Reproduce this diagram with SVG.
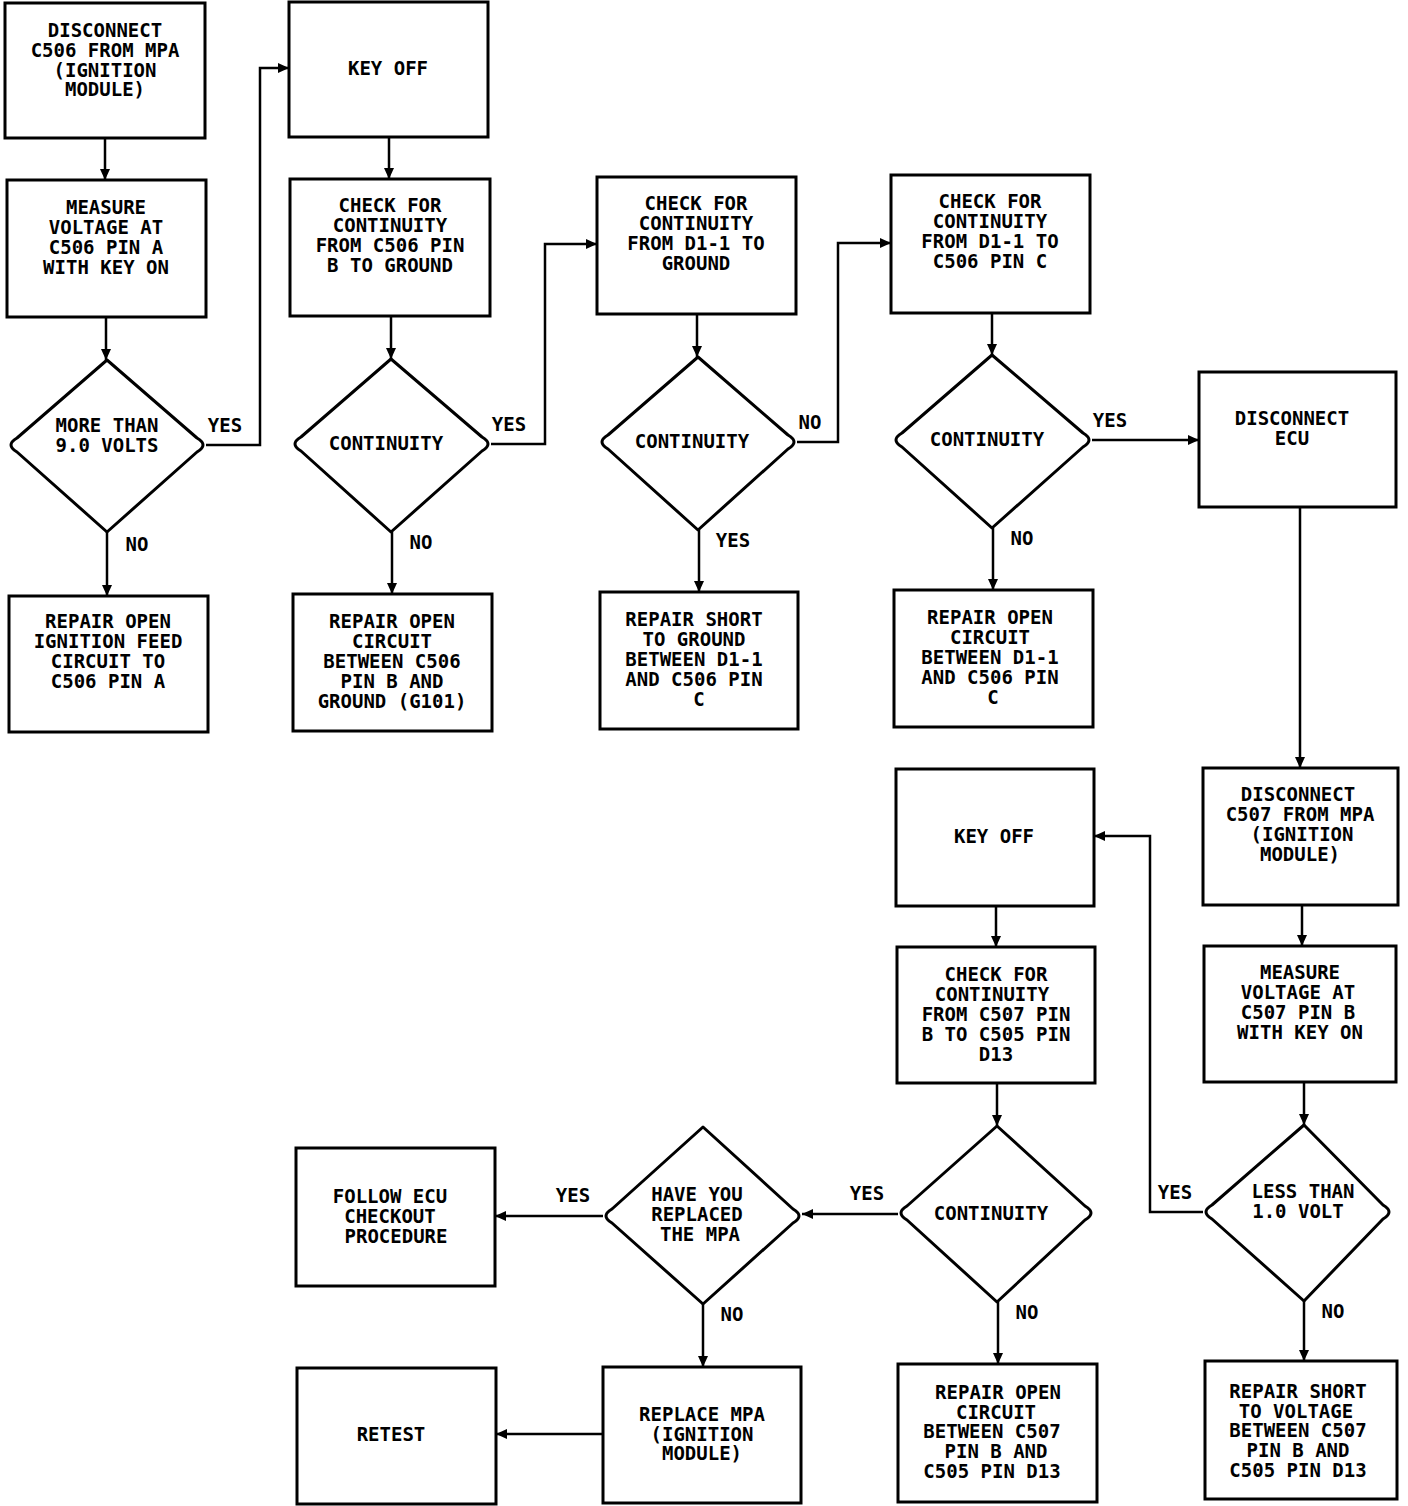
<svg xmlns="http://www.w3.org/2000/svg" width="1408" height="1506" viewBox="0 0 1408 1506">
<defs>
<marker id="ah" markerUnits="userSpaceOnUse" markerWidth="11" markerHeight="10" refX="11" refY="5" orient="auto">
<path d="M0,0 L11,5 L0,10 Z" fill="#000"/>
</marker>
<style>
.box{fill:#fff;stroke:#000;stroke-width:3}
.dia{fill:#fff;stroke:#000;stroke-width:3;stroke-linejoin:round}
.t{font-family:"DejaVu Sans Mono","Liberation Mono",monospace;font-size:19px;font-weight:bold;fill:#000;text-anchor:middle}
.lbl{font-family:"DejaVu Sans Mono","Liberation Mono",monospace;font-size:19px;font-weight:bold;fill:#000;text-anchor:middle}
.c{fill:none;stroke:#000;stroke-width:2.5}
</style>
</defs>
<rect width="1408" height="1506" fill="#fff"/>

<g id="connectors">
<path class="c" d="M105,138 V180" marker-end="url(#ah)"/>
<path class="c" d="M106,317 V360" marker-end="url(#ah)"/>
<path class="c" d="M206,445 H260 V68 H289" marker-end="url(#ah)"/>
<path class="c" d="M107,532 V596" marker-end="url(#ah)"/>
<path class="c" d="M389,137 V179" marker-end="url(#ah)"/>
<path class="c" d="M391,316 V359" marker-end="url(#ah)"/>
<path class="c" d="M491,444 H545 V244 H597" marker-end="url(#ah)"/>
<path class="c" d="M392,532 V594" marker-end="url(#ah)"/>
<path class="c" d="M697,314 V357" marker-end="url(#ah)"/>
<path class="c" d="M797,442 H838 V243 H891" marker-end="url(#ah)"/>
<path class="c" d="M699,530 V592" marker-end="url(#ah)"/>
<path class="c" d="M992,313 V355" marker-end="url(#ah)"/>
<path class="c" d="M1092,440 H1199" marker-end="url(#ah)"/>
<path class="c" d="M993,528 V590" marker-end="url(#ah)"/>
<path class="c" d="M1300,507 V768" marker-end="url(#ah)"/>
<path class="c" d="M1302,905 V946" marker-end="url(#ah)"/>
<path class="c" d="M1304,1082 V1125" marker-end="url(#ah)"/>
<path class="c" d="M1203,1212 H1150 V836 H1094" marker-end="url(#ah)"/>
<path class="c" d="M1304,1301 V1361" marker-end="url(#ah)"/>
<path class="c" d="M996,906 V947" marker-end="url(#ah)"/>
<path class="c" d="M997,1083 V1126" marker-end="url(#ah)"/>
<path class="c" d="M898,1214 H802" marker-end="url(#ah)"/>
<path class="c" d="M998,1302 V1364" marker-end="url(#ah)"/>
<path class="c" d="M603,1216 H495" marker-end="url(#ah)"/>
<path class="c" d="M703,1304 V1367" marker-end="url(#ah)"/>
<path class="c" d="M603,1434 H496" marker-end="url(#ah)"/>
<text class="lbl" x="225" y="432">YES</text>
<text class="lbl" x="137" y="551">NO</text>
<text class="lbl" x="509" y="431">YES</text>
<text class="lbl" x="421" y="549">NO</text>
<text class="lbl" x="810" y="429">NO</text>
<text class="lbl" x="733" y="547">YES</text>
<text class="lbl" x="1110" y="427">YES</text>
<text class="lbl" x="1022" y="545">NO</text>
<text class="lbl" x="1175" y="1199">YES</text>
<text class="lbl" x="1333" y="1318">NO</text>
<text class="lbl" x="867" y="1200">YES</text>
<text class="lbl" x="1027" y="1319">NO</text>
<text class="lbl" x="573" y="1202">YES</text>
<text class="lbl" x="732" y="1321">NO</text>
</g>

<g id="n_disconnect_c506">
<rect class="box" x="5" y="3" width="200" height="135"/>
<text class="t" x="105" y="37">DISCONNECT</text>
<text class="t" x="105" y="57">C506 FROM MPA</text>
<text class="t" x="105" y="77">(IGNITION</text>
<text class="t" x="105" y="96">MODULE)</text>
</g>
<g id="n_keyoff1">
<rect class="box" x="289" y="2" width="199" height="135"/>
<text class="t" x="388" y="75">KEY OFF</text>
</g>
<g id="n_measure_c506">
<rect class="box" x="7" y="180" width="199" height="137"/>
<text class="t" x="106" y="214">MEASURE</text>
<text class="t" x="106" y="234">VOLTAGE AT</text>
<text class="t" x="106" y="254">C506 PIN A</text>
<text class="t" x="106" y="274">WITH KEY ON</text>
</g>
<g id="n_check_c506b">
<rect class="box" x="290" y="179" width="200" height="137"/>
<text class="t" x="390" y="212">CHECK FOR</text>
<text class="t" x="390" y="232">CONTINUITY</text>
<text class="t" x="390" y="252">FROM C506 PIN</text>
<text class="t" x="390" y="272">B TO GROUND</text>
</g>
<g id="n_check_d11_gnd">
<rect class="box" x="597" y="177" width="199" height="137"/>
<text class="t" x="696" y="210">CHECK FOR</text>
<text class="t" x="696" y="230">CONTINUITY</text>
<text class="t" x="696" y="250">FROM D1-1 TO</text>
<text class="t" x="696" y="270">GROUND</text>
</g>
<g id="n_check_d11_c">
<rect class="box" x="891" y="175" width="199" height="138"/>
<text class="t" x="990" y="208">CHECK FOR</text>
<text class="t" x="990" y="228">CONTINUITY</text>
<text class="t" x="990" y="248">FROM D1-1 TO</text>
<text class="t" x="990" y="268">C506 PIN C</text>
</g>
<g id="d_more9">
<path class="dia" d="M107,360 L197,438 Q209,445 197,452 L107,532 L17,452 Q5,445 17,438 Z"/>
<text class="t" x="107" y="432">MORE THAN</text>
<text class="t" x="107" y="452">9.0 VOLTS</text>
</g>
<g id="d_cont1">
<path class="dia" d="M391,359 L482,437 Q494,444 482,451 L391,532 L301,451 Q289,444 301,437 Z"/>
<text class="t" x="386" y="450">CONTINUITY</text>
</g>
<g id="d_cont2">
<path class="dia" d="M698,357 L788,435 Q800,442 788,449 L698,530 L608,449 Q596,442 608,435 Z"/>
<text class="t" x="692" y="448">CONTINUITY</text>
</g>
<g id="d_cont3">
<path class="dia" d="M992,355 L1083,433 Q1095,440 1083,447 L992,528 L902,447 Q890,440 902,433 Z"/>
<text class="t" x="987" y="446">CONTINUITY</text>
</g>
<g id="n_disconnect_ecu">
<rect class="box" x="1199" y="372" width="197" height="135"/>
<text class="t" x="1292" y="425">DISCONNECT</text>
<text class="t" x="1292" y="445">ECU</text>
</g>
<g id="n_repair_feed">
<rect class="box" x="9" y="596" width="199" height="136"/>
<text class="t" x="108" y="628">REPAIR OPEN</text>
<text class="t" x="108" y="648">IGNITION FEED</text>
<text class="t" x="108" y="668">CIRCUIT TO</text>
<text class="t" x="108" y="688">C506 PIN A</text>
</g>
<g id="n_repair_g101">
<rect class="box" x="293" y="594" width="199" height="137"/>
<text class="t" x="392" y="628">REPAIR OPEN</text>
<text class="t" x="392" y="648">CIRCUIT</text>
<text class="t" x="392" y="668">BETWEEN C506</text>
<text class="t" x="392" y="688">PIN B AND</text>
<text class="t" x="392" y="708">GROUND (G101)</text>
</g>
<g id="n_repair_short_gnd">
<rect class="box" x="600" y="592" width="198" height="137"/>
<text class="t" x="694" y="626">REPAIR SHORT</text>
<text class="t" x="694" y="646">TO GROUND</text>
<text class="t" x="694" y="666">BETWEEN D1-1</text>
<text class="t" x="694" y="686">AND C506 PIN</text>
<text class="t" x="699" y="706">C</text>
</g>
<g id="n_repair_open_c">
<rect class="box" x="894" y="590" width="199" height="137"/>
<text class="t" x="990" y="624">REPAIR OPEN</text>
<text class="t" x="990" y="644">CIRCUIT</text>
<text class="t" x="990" y="664">BETWEEN D1-1</text>
<text class="t" x="990" y="684">AND C506 PIN</text>
<text class="t" x="993" y="704">C</text>
</g>
<g id="n_disconnect_c507">
<rect class="box" x="1203" y="768" width="195" height="137"/>
<text class="t" x="1298" y="801">DISCONNECT</text>
<text class="t" x="1300" y="821">C507 FROM MPA</text>
<text class="t" x="1302" y="841">(IGNITION</text>
<text class="t" x="1300" y="861">MODULE)</text>
</g>
<g id="n_keyoff2">
<rect class="box" x="896" y="769" width="198" height="137"/>
<text class="t" x="994" y="843">KEY OFF</text>
</g>
<g id="n_check_c507">
<rect class="box" x="897" y="947" width="198" height="136"/>
<text class="t" x="996" y="981">CHECK FOR</text>
<text class="t" x="992" y="1001">CONTINUITY</text>
<text class="t" x="996" y="1021">FROM C507 PIN</text>
<text class="t" x="996" y="1041">B TO C505 PIN</text>
<text class="t" x="996" y="1061">D13</text>
</g>
<g id="n_measure_c507">
<rect class="box" x="1204" y="946" width="192" height="136"/>
<text class="t" x="1300" y="979">MEASURE</text>
<text class="t" x="1298" y="999">VOLTAGE AT</text>
<text class="t" x="1298" y="1019">C507 PIN B</text>
<text class="t" x="1300" y="1039">WITH KEY ON</text>
</g>
<g id="d_cont4">
<path class="dia" d="M997,1126 L1085,1206 Q1097,1213 1085,1220 L997,1302 L907,1220 Q895,1213 907,1206 Z"/>
<text class="t" x="991" y="1220">CONTINUITY</text>
</g>
<g id="d_less1">
<path class="dia" d="M1304,1125 L1383,1205 Q1395,1212 1383,1219 L1304,1301 L1212,1219 Q1200,1212 1212,1205 Z"/>
<text class="t" x="1303" y="1198">LESS THAN</text>
<text class="t" x="1298" y="1218">1.0 VOLT</text>
</g>
<g id="d_replaced">
<path class="dia" d="M703,1127 L793,1209 Q805,1216 793,1223 L703,1304 L612,1223 Q600,1216 612,1209 Z"/>
<text class="t" x="697" y="1201">HAVE YOU</text>
<text class="t" x="697" y="1221">REPLACED</text>
<text class="t" x="700" y="1241">THE MPA</text>
</g>
<g id="n_follow_ecu">
<rect class="box" x="296" y="1148" width="199" height="138"/>
<text class="t" x="390" y="1203">FOLLOW ECU</text>
<text class="t" x="390" y="1223">CHECKOUT</text>
<text class="t" x="396" y="1243">PROCEDURE</text>
</g>
<g id="n_retest">
<rect class="box" x="297" y="1368" width="199" height="136"/>
<text class="t" x="391" y="1441">RETEST</text>
</g>
<g id="n_replace_mpa">
<rect class="box" x="603" y="1367" width="198" height="136"/>
<text class="t" x="702" y="1421">REPLACE MPA</text>
<text class="t" x="702" y="1441">(IGNITION</text>
<text class="t" x="702" y="1460">MODULE)</text>
</g>
<g id="n_repair_open_c507">
<rect class="box" x="898" y="1364" width="199" height="138"/>
<text class="t" x="998" y="1399">REPAIR OPEN</text>
<text class="t" x="996" y="1419">CIRCUIT</text>
<text class="t" x="992" y="1438">BETWEEN C507</text>
<text class="t" x="996" y="1458">PIN B AND</text>
<text class="t" x="992" y="1478">C505 PIN D13</text>
</g>
<g id="n_repair_short_v">
<rect class="box" x="1205" y="1361" width="192" height="138"/>
<text class="t" x="1298" y="1398">REPAIR SHORT</text>
<text class="t" x="1296" y="1418">TO VOLTAGE</text>
<text class="t" x="1298" y="1437">BETWEEN C507</text>
<text class="t" x="1298" y="1457">PIN B AND</text>
<text class="t" x="1298" y="1477">C505 PIN D13</text>
</g>
</svg>
